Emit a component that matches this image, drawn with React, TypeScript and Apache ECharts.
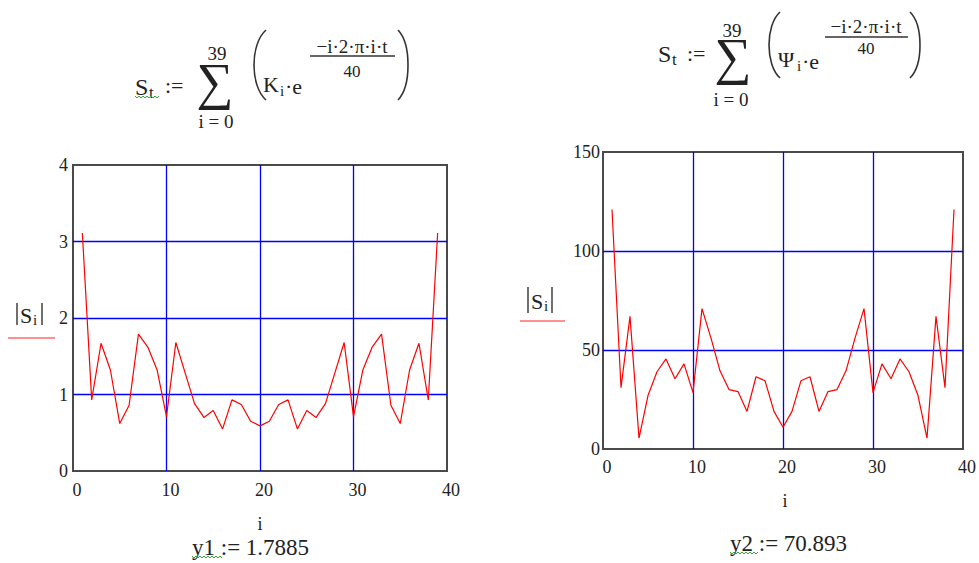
import React, { useEffect, useRef } from "react";
import * as echarts from "echarts";

// Harmonic index i (1..39)
const indexI = [
  1, 2, 3, 4, 5, 6, 7, 8, 9, 10, 11, 12, 13, 14, 15, 16, 17, 18, 19, 20,
  21, 22, 23, 24, 25, 26, 27, 28, 29, 30, 31, 32, 33, 34, 35, 36, 37, 38, 39,
];

// |S_i| for the K-sequence transform
const magK = [
  3.11, 0.93, 1.67, 1.32, 0.62, 0.86, 1.7885, 1.62, 1.32, 0.71, 1.68, 1.28,
  0.88, 0.7, 0.79, 0.55, 0.93, 0.87, 0.65, 0.59, 0.65, 0.87, 0.93, 0.55, 0.79,
  0.7, 0.88, 1.28, 1.68, 0.71, 1.32, 1.62, 1.7885, 0.86, 0.62, 1.32, 1.67,
  0.93, 3.11,
];

// |S_i| for the Psi-sequence transform
const magPsi = [
  121, 31, 67, 5.5, 27, 39, 45.5, 35.5, 43, 28.5, 70.893, 56, 39.5, 30, 29, 19,
  36.5, 34.5, 19, 11, 19, 34.5, 36.5, 19, 29, 30, 39.5, 56, 70.893, 28.5, 43,
  35.5, 45.5, 39, 27, 5.5, 67, 31, 121,
];

// Axis ranges
const xRange = { min: 0, max: 40, step: 10 };
const yRangeK = { min: 0, max: 4, step: 1 };
const yRangePsi = { min: 0, max: 150, step: 50 };

// Result read-outs
const y1Value = "1.7885";
const y2Value = "70.893";

const INK = "#222";
const SERIF = '"Liberation Serif", "DejaVu Serif", serif';

const txt = (
  text: string,
  x: number,
  y: number,
  size: number,
  align: string = "left",
  lineHeight?: number
) => ({
  type: "text",
  x,
  y,
  z: 10,
  style: {
    text,
    font: `${size}px ${SERIF}`,
    fill: INK,
    textAlign: align,
    textVerticalAlign: "middle",
    ...(lineHeight ? { lineHeight } : {}),
  },
});

const seg = (x1: number, y1: number, x2: number, y2: number, color = INK, w = 1) => ({
  type: "line",
  z: 10,
  shape: { x1, y1, x2, y2 },
  style: { stroke: color, lineWidth: w },
});

// Spell-check style squiggle under a defined name
const squiggle = (x0: number, x1: number, y: number) => {
  const pts: number[][] = [];
  let up = true;
  for (let x = x0; x <= x1; x += 2) {
    pts.push([x, up ? y : y + 2]);
    up = !up;
  }
  return {
    type: "polyline",
    z: 10,
    shape: { points: pts },
    style: { stroke: "#3aa63a", lineWidth: 1, fill: "none" },
  };
};

// Tall round bracket drawn as a cubic curve
const paren = (xEnd: number, xMid: number, top: number, bottom: number) => {
  const c = xMid - (xEnd - xMid) / 3;
  return {
    type: "bezierCurve",
    z: 10,
    shape: {
      x1: xEnd,
      y1: top,
      cpx1: c,
      cpy1: top + (bottom - top) * 0.2,
      cpx2: c,
      cpy2: bottom - (bottom - top) * 0.2,
      x2: xEnd,
      y2: bottom,
    },
    style: { stroke: "#333", lineWidth: 1.6, fill: "none" },
  };
};

// |S_i| axis caption with red marker underneath
const magLabel = (lb: number, rb: number, top: number, bottom: number, redY: number, redX0: number, redX1: number) => [
  seg(lb, top, lb, bottom, "#333", 1.4),
  seg(rb, top, rb, bottom, "#333", 1.4),
  txt("S", lb + 3, (top + bottom) / 2 + 1, 22),
  txt("i", lb + 16, (top + bottom) / 2 + 6, 15),
  seg(redX0, redY, redX1, redY, "#ff2020", 1),
];

const graphics: any[] = [
  // Left formula
  txt("S", 135, 87, 24),
  txt("t", 149, 92, 17),
  squiggle(135, 160, 96),
  txt(":=", 165, 85, 22),
  txt("\u2211", 215, 81, 52, "center", 30),
  txt("39", 217, 53, 19, "center", 14),
  txt("i = 0", 216, 121, 19, "center", 14),
  paren(266, 254, 30, 100),
  txt("K", 263, 84, 22),
  txt("i", 280, 91, 15),
  txt("\u00b7e", 285, 86, 22),
  txt("\u2212i\u00b72\u00b7\u03c0\u00b7i\u00b7t", 352, 46, 19, "center"),
  seg(310, 56, 395, 56, "#333", 1.4),
  txt("40", 352, 71, 17, "center"),
  paren(398, 408, 30, 100),

  // Right formula
  txt("S", 658, 54, 24),
  txt("t", 672, 59, 17),
  txt(":=", 687, 53, 22),
  txt("\u2211", 733, 56, 52, "center", 30),
  txt("39", 732, 30, 19, "center", 14),
  txt("i = 0", 731, 99, 19, "center", 14),
  paren(780, 769, 12, 78),
  txt("\u03a8", 778, 59, 22),
  txt("i", 797, 66, 15),
  txt("\u00b7e", 802, 61, 22),
  txt("\u2212i\u00b72\u00b7\u03c0\u00b7i\u00b7t", 866, 26, 19, "center"),
  seg(825, 37, 908, 37, "#333", 1.4),
  txt("40", 866, 48, 17, "center"),
  paren(910, 920, 12, 78),

  // Axis captions
  ...magLabel(17, 42, 303, 325, 338, 8, 55),
  ...magLabel(528, 552, 287, 313, 321, 520, 565),
  txt("i", 260, 524, 18, "center"),
  txt("i", 785, 501, 18, "center"),

  // Read-outs
  txt(`y1 := ${y1Value}`, 192, 547, 23),
  squiggle(192, 222, 556),
  txt(`y2 := ${y2Value}`, 730, 543, 23),
  squiggle(730, 758, 552),
];

const axisLabelStyle = {
  fontFamily: SERIF,
  fontSize: 18,
  color: INK,
};

const splitLineStyle = {
  show: true,
  showMinLine: false,
  showMaxLine: false,
  lineStyle: { color: "#0000ff", width: 1.3 },
};

const makeX = (gridIndex: number, margin: number) => ({
  type: "value",
  gridIndex,
  min: xRange.min,
  max: xRange.max,
  interval: xRange.step,
  axisLine: { show: false },
  axisTick: { show: false },
  splitLine: splitLineStyle,
  axisLabel: { ...axisLabelStyle, margin, padding: [0, 0, 0, 8] },
});

const makeY = (gridIndex: number, r: { min: number; max: number; step: number }, margin: number) => ({
  type: "value",
  gridIndex,
  min: r.min,
  max: r.max,
  interval: r.step,
  axisLine: { show: false },
  axisTick: { show: false },
  splitLine: splitLineStyle,
  axisLabel: { ...axisLabelStyle, margin },
});

export default function App() {
  const ref = useRef<HTMLDivElement>(null);

  useEffect(() => {
    if (!ref.current) return;
    const chart = echarts.init(ref.current, undefined, { renderer: "svg" });
    const frame = { show: true, borderColor: "#4a4a4a", borderWidth: 2, backgroundColor: "#fff" };
    chart.setOption({
      animation: false,
      backgroundColor: "#fff",
      grid: [
        { left: 73, top: 165, width: 374, height: 306, ...frame },
        { left: 603, top: 152, width: 362, height: 297, ...frame },
      ],
      xAxis: [makeX(0, 10), makeX(1, 9)],
      yAxis: [makeY(0, yRangeK, 5), makeY(1, yRangePsi, 3)],
      series: [
        {
          type: "line",
          xAxisIndex: 0,
          yAxisIndex: 0,
          data: indexI.map((i, k) => [i, magK[k]]),
          showSymbol: false,
          lineStyle: { color: "#ff0000", width: 1.2 },
          z: 5,
        },
        {
          type: "line",
          xAxisIndex: 1,
          yAxisIndex: 1,
          data: indexI.map((i, k) => [i, magPsi[k]]),
          showSymbol: false,
          lineStyle: { color: "#ff0000", width: 1.2 },
          z: 5,
        },
      ],
      graphic: graphics,
    });
    return () => chart.dispose();
  }, []);

  return (
    <div
      ref={ref}
      style={{ position: "fixed", left: 0, top: 0, width: 979, height: 563, background: "#fff" }}
    />
  );
}
